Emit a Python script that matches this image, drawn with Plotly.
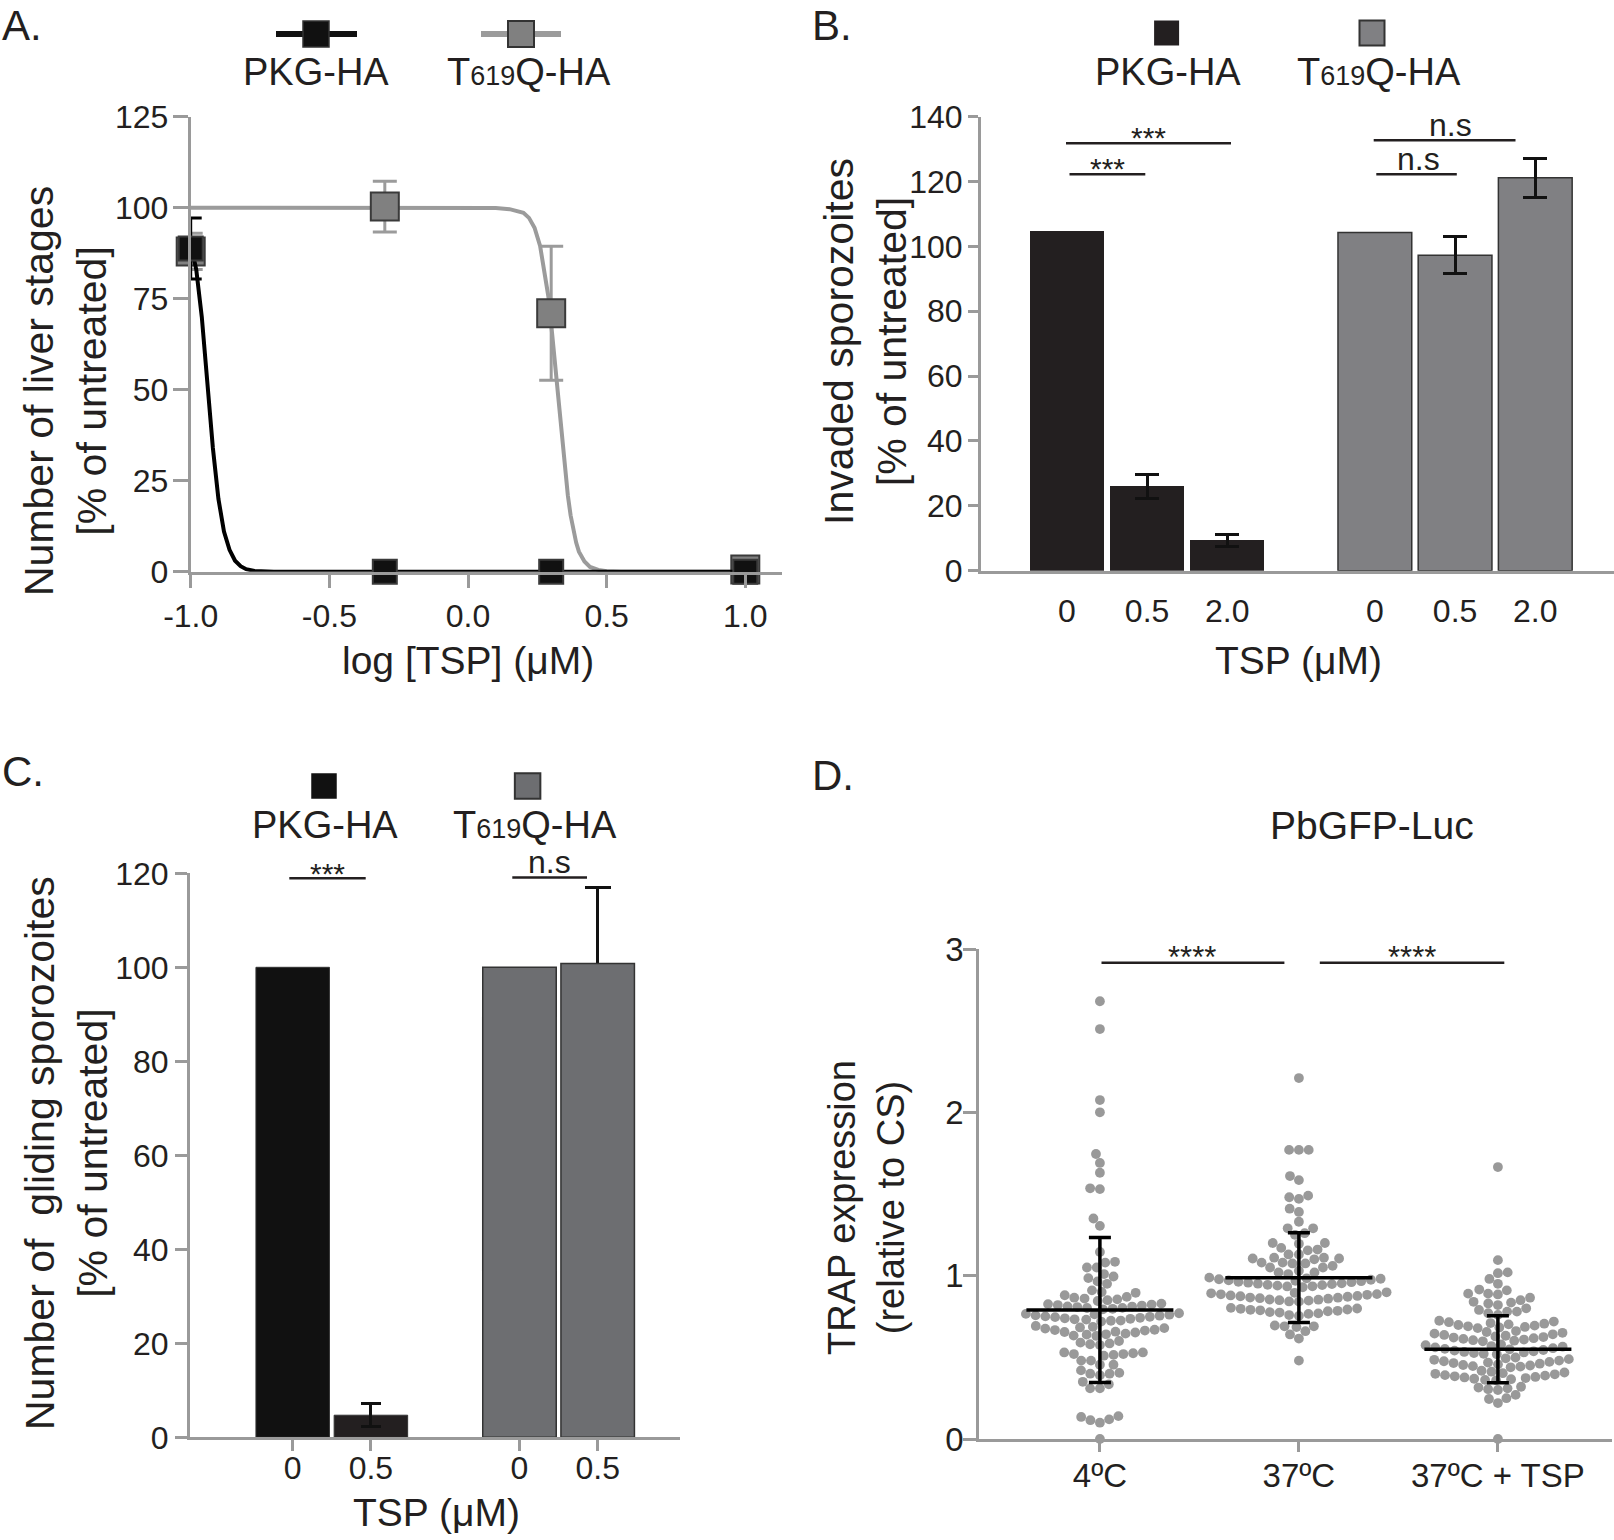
import math
import plotly.graph_objects as go

W, H = 1614, 1540
FONT = "Liberation Sans, Arial, Helvetica, sans-serif"
TXT = "#231f20"
AX = "#9a9a9a"

# ---------------- Panel A data ----------------
A_X_LOG = [-1.0, -0.3, 0.3, 1.0]
A_PKG_Y = [88.8, 0, 0, 0]
A_PKG_ERR = [8.4, None, None, None]
A_T619_Y = [88.0, 100.3, 71.0, 0.6]
A_T619_ERR = [5.0, 7.0, 18.4, None]
A_PKG_FIT_X = [-1.00, -0.98, -0.96, -0.94, -0.92, -0.90, -0.88, -0.86, -0.84, -0.82, -0.80, -0.77, -0.74, -0.70, 1.00]
A_PKG_FIT_Y = [90, 83, 70, 52, 34, 20, 11, 6, 3, 1.5, 0.7, 0.2, 0.05, 0, 0]
A_T619_FIT_X = [-1.0, 0.0, 0.10, 0.15, 0.20, 0.22, 0.24, 0.26, 0.28, 0.29, 0.30, 0.31, 0.32, 0.33,
                0.34, 0.35, 0.36, 0.37, 0.38, 0.39, 0.40, 0.42, 0.44, 0.47, 0.50, 0.55, 1.0]
A_T619_FIT_Y = [100, 100, 99.9, 99.6, 98.6, 97.2, 94.5, 89.5, 81, 75.5, 68, 60, 51.5, 43,
                35, 27.5, 21, 15.5, 11.5, 8, 5.5, 2.8, 1.3, 0.5, 0.1, 0, 0]
A_XTICKS = [-1.0, -0.5, 0.0, 0.5, 1.0]
A_XTICK_LABELS = ["-1.0", "-0.5", "0.0", "0.5", "1.0"]
A_YTICKS = [0, 25, 50, 75, 100, 125]

# ---------------- Panel B data ----------------
B_DOSES = ["0", "0.5", "2.0"]
B_PKG = [104.8, 26.0, 9.4]
B_PKG_ERR = [None, 3.7, 1.8]
B_T619 = [104.3, 97.3, 121.2]
B_T619_ERR = [None, 5.8, 6.0]
B_YTICKS = [0, 20, 40, 60, 80, 100, 120, 140]

# ---------------- Panel C data ----------------
C_DOSES = ["0", "0.5"]
C_PKG = [100.0, 4.7]
C_PKG_ERR = [None, 2.5]
C_T619 = [100.0, 100.8]
C_T619_ERR = [None, 16.2]
C_YTICKS = [0, 20, 40, 60, 80, 100, 120]

# ---------------- Panel D data ----------------
D_GROUPS = ["4ºC", "37ºC", "37ºC + TSP"]
D_4C = [0.00, 0.10, 0.115, 0.12, 0.135, 0.14,
        0.31, 0.31, 0.335, 0.35,
        0.39, 0.40, 0.40, 0.405, 0.42,
        0.455, 0.455, 0.48, 0.48,
        0.51, 0.515, 0.52, 0.52, 0.525, 0.53, 0.53,
        0.575, 0.58, 0.585, 0.59, 0.60,
        0.631, 0.633, 0.639, 0.641, 0.645, 0.652, 0.655, 0.657, 0.664, 0.667, 0.669, 0.676, 0.679, 0.683, 0.687, 0.692,
        0.719, 0.724, 0.725, 0.731, 0.733, 0.736, 0.739, 0.742, 0.746, 0.748, 0.751, 0.755, 0.757, 0.761, 0.763, 0.766, 0.770,
        0.794, 0.797, 0.802, 0.803, 0.808, 0.811, 0.812, 0.817, 0.820, 0.823, 0.826, 0.829,
        0.845, 0.85, 0.855, 0.86, 0.865, 0.87,
        0.88, 0.895, 0.90, 0.91,
        0.95, 0.965, 0.985, 0.995, 1.01,
        1.05, 1.05, 1.08, 1.085,
        1.145, 1.305, 1.35, 1.53, 1.535, 1.63, 1.69, 1.745, 2.00, 2.075, 2.51, 2.68]
D_37C = [0.48, 0.615, 0.64, 0.66, 0.685, 0.69, 0.69, 0.695,
         0.754, 0.759, 0.766, 0.769, 0.774, 0.777, 0.782, 0.785, 0.788, 0.791, 0.793, 0.797, 0.799, 0.803,
         0.841, 0.842, 0.847, 0.850, 0.853, 0.854, 0.859, 0.862, 0.865, 0.866, 0.871, 0.874, 0.876, 0.879,
         0.883, 0.886, 0.887, 0.892, 0.895, 0.898,
         0.929, 0.934, 0.935, 0.939, 0.942, 0.944, 0.948, 0.951, 0.953, 0.957, 0.960, 0.962, 0.966, 0.969,
         0.971, 0.975, 0.978, 0.981, 0.984, 0.988,
         1.01, 1.02, 1.02, 1.03, 1.05, 1.05, 1.06, 1.075, 1.075, 1.08, 1.08, 1.10, 1.105, 1.105, 1.11, 1.11,
         1.13, 1.13, 1.155, 1.16, 1.17,
         1.195, 1.20, 1.20, 1.25, 1.26, 1.29, 1.29, 1.33, 1.39, 1.41, 1.47, 1.48, 1.49, 1.585, 1.61,
         1.77, 1.77, 1.77, 2.21]
D_37C_TSP = [0.0, 0.22, 0.245, 0.25, 0.27, 0.30, 0.305, 0.31, 0.315, 0.32,
             0.359, 0.362, 0.366, 0.369, 0.373, 0.377, 0.380, 0.384, 0.388, 0.391, 0.396, 0.399, 0.403, 0.407, 0.412, 0.418,
             0.439, 0.443, 0.446, 0.450, 0.453, 0.457, 0.461, 0.465, 0.468, 0.472, 0.476, 0.480, 0.485, 0.489, 0.494, 0.499,
             0.519, 0.522, 0.526, 0.530, 0.533, 0.537, 0.541, 0.545, 0.549, 0.552, 0.556, 0.561, 0.565, 0.569, 0.574, 0.579,
             0.598, 0.602, 0.605, 0.609, 0.613, 0.617, 0.621, 0.624, 0.628, 0.632, 0.637, 0.641, 0.645, 0.650, 0.655, 0.661,
             0.679, 0.683, 0.686, 0.690, 0.694, 0.698, 0.702, 0.706, 0.710, 0.715, 0.719, 0.724,
             0.76, 0.77, 0.78, 0.78, 0.79, 0.80, 0.82, 0.83, 0.835, 0.84, 0.85, 0.865, 0.885, 0.89, 0.89,
             0.91, 0.915, 0.95, 0.98, 1.015, 1.02, 1.095, 1.665]
D_MEAN = [0.79, 0.988, 0.55]
D_SD = [0.444, 0.274, 0.205]
D_YTICKS = [0, 1, 2, 3]


# ---------------- helpers (pixel -> paper) ----------------
def fx(px):
    return px / W


def fy(py):
    return 1 - py / H


def txt(text, x, y, size, xanchor="center", yanchor="middle", angle=0):
    return dict(text=text, x=fx(x), y=fy(y), xref="paper", yref="paper", showarrow=False,
                font=dict(size=size, color=TXT, family=FONT), xanchor=xanchor, yanchor=yanchor,
                textangle=angle)


def hline(x0, x1, y, color="#231f20", width=2.5):
    return dict(type="line", xref="paper", yref="paper", x0=fx(x0), x1=fx(x1), y0=fy(y), y1=fy(y),
                line=dict(color=color, width=width))


def square(cx, cy, s, fill, line_color=None, lw=0):
    return dict(type="rect", xref="paper", yref="paper", x0=fx(cx - s / 2), x1=fx(cx + s / 2),
                y0=fy(cy + s / 2), y1=fy(cy - s / 2), fillcolor=fill,
                line=dict(color=line_color or fill, width=lw))


def with_err(pos, vals, errs):
    keep = [i for i, e in enumerate(errs) if e is not None]
    return [pos[i] for i in keep], [vals[i] for i in keep], [errs[i] for i in keep]


def beeswarm(values, y_px_per_unit, diameter):
    order = sorted(range(len(values)), key=lambda i: values[i])
    placed = []
    offs = [0.0] * len(values)
    for i in order:
        y = values[i] * y_px_per_unit
        cands = [0.0]
        for (px_, py_) in placed:
            dy = y - py_
            if abs(dy) < diameter:
                dx = math.sqrt(diameter ** 2 - dy ** 2)
                cands.extend([px_ + dx, px_ - dx])
        cands.sort(key=lambda c: (round(abs(c), 6), c))
        chosen = 0.0
        for c in cands:
            if all((c - px_) ** 2 + (y - py_) ** 2 >= diameter ** 2 - 1e-6 for px_, py_ in placed):
                chosen = c
                break
        placed.append((chosen, y))
        offs[i] = chosen
    return offs


def axis_base(ticklen, size=32):
    return dict(showline=True, linecolor=AX, linewidth=3, ticks="outside", ticklen=ticklen,
                tickcolor=AX, tickwidth=3, showgrid=False, zeroline=False, fixedrange=True,
                automargin=False, tickfont=dict(size=size, color=TXT, family=FONT))


# ---------------- layout geometry (px) ----------------
A_L, A_R, A_T, A_B = 190.7, 782.0, 116.7, 571.7
A_XPX = 277.3
A_XRANGE = [-1.0, -1.0 + (A_R - A_L) / A_XPX]
B_L, B_R, B_T, B_B = 981.0, 1614.0, 116.7, 570.7
B_GROUP_STEP = 3.84
B_XPX = 80.2
B_FIRST = 1066.9
B_XRANGE = [(B_L - B_FIRST) / B_XPX, (B_R - B_FIRST) / B_XPX]
C_L, C_R, C_T, C_B = 190.0, 680.0, 873.3, 1437.3
C_GROUP_STEP = 2.9
C_XPX = 78.2
C_FIRST = 292.7
C_XRANGE = [(C_L - C_FIRST) / C_XPX, (C_R - C_FIRST) / C_XPX]
D_L, D_R, D_T, D_B = 979.3, 1612.0, 949.0, 1439.0
D_XPX = 199.0
D_FIRST = 1099.9
D_XRANGE = [(D_L - D_FIRST) / D_XPX, (D_R - D_FIRST) / D_XPX]

fig = go.Figure()
ERR = dict(type="data", color="#111111", thickness=3)

# ---------------- Panel A traces ----------------
BLACK = "#111111"
GRAYM = "#808080"
GRAYL = "#9b9b9b"
fig.add_trace(go.Scatter(x=A_T619_FIT_X, y=A_T619_FIT_Y, mode="lines",
                         line=dict(color=GRAYL, width=4), xaxis="x", yaxis="y", hoverinfo="skip"))
ax_, ay_, ae_ = with_err(A_X_LOG, A_T619_Y, A_T619_ERR)
fig.add_trace(go.Scatter(x=ax_, y=ay_, mode="markers", marker=dict(size=1, opacity=0),
                         error_y=dict(type="data", array=ae_, color=GRAYL, thickness=3, width=12),
                         cliponaxis=False, xaxis="x", yaxis="y"))
fig.add_trace(go.Scatter(x=A_X_LOG, y=A_T619_Y, mode="markers",
                         marker=dict(symbol="square", size=28, color=GRAYM, line=dict(color="#3a3a3a", width=2)),
                         cliponaxis=False, xaxis="x", yaxis="y"))
fig.add_trace(go.Scatter(x=A_PKG_FIT_X, y=A_PKG_FIT_Y, mode="lines",
                         line=dict(color="#000000", width=4), xaxis="x", yaxis="y", hoverinfo="skip",
                         cliponaxis=False))
ax_, ay_, ae_ = with_err(A_X_LOG, A_PKG_Y, A_PKG_ERR)
fig.add_trace(go.Scatter(x=ax_, y=ay_, mode="markers", marker=dict(size=1, opacity=0),
                         error_y=dict(type="data", array=ae_, color="#000000", thickness=3, width=11),
                         cliponaxis=False, xaxis="x", yaxis="y"))
fig.add_trace(go.Scatter(x=A_X_LOG, y=A_PKG_Y, mode="markers",
                         marker=dict(symbol="square", size=24, color=BLACK, line=dict(color="#3a3a3a", width=2)),
                         cliponaxis=False, xaxis="x", yaxis="y"))

# ---------------- Panel B traces ----------------
b_pkg_pos = [0 * B_GROUP_STEP + i for i in range(len(B_DOSES))]
b_t619_pos = [1 * B_GROUP_STEP + i for i in range(len(B_DOSES))]
fig.add_trace(go.Bar(x=b_pkg_pos, y=B_PKG, width=0.92, marker=dict(color="#231f20", line=dict(width=0)),
                     xaxis="x2", yaxis="y2"))
fig.add_trace(go.Bar(x=b_t619_pos, y=B_T619, width=0.92,
                     marker=dict(color="#808083", line=dict(color="#333333", width=1.5)),
                     xaxis="x2", yaxis="y2"))
for pos, vals, errs in [(b_pkg_pos, B_PKG, B_PKG_ERR), (b_t619_pos, B_T619, B_T619_ERR)]:
    ex, ey, ee = with_err(pos, vals, errs)
    fig.add_trace(go.Bar(x=ex, y=ey, width=0.92, marker=dict(color="rgba(0,0,0,0)", line=dict(width=0)),
                         error_y=dict(ERR, array=ee, width=12), xaxis="x2", yaxis="y2", hoverinfo="skip"))

# ---------------- Panel C traces ----------------
c_pkg_pos = [0 * C_GROUP_STEP + i for i in range(len(C_DOSES))]
c_t619_pos = [1 * C_GROUP_STEP + i for i in range(len(C_DOSES))]
ex, ey, ee = with_err(c_t619_pos, C_T619, C_T619_ERR)
fig.add_trace(go.Bar(x=ex, y=ey, width=0.94, marker=dict(color="rgba(0,0,0,0)", line=dict(width=0)),
                     error_y=dict(ERR, array=ee, width=13), xaxis="x3", yaxis="y3", hoverinfo="skip"))
fig.add_trace(go.Bar(x=c_pkg_pos, y=C_PKG, width=0.94,
                     marker=dict(color=["#111111", "#231f20"], line=dict(color="#333333", width=1)),
                     xaxis="x3", yaxis="y3"))
fig.add_trace(go.Bar(x=c_t619_pos, y=C_T619, width=0.94,
                     marker=dict(color="#6d6e71", line=dict(color="#333333", width=1.5)),
                     xaxis="x3", yaxis="y3"))
ex, ey, ee = with_err(c_pkg_pos, C_PKG, C_PKG_ERR)
fig.add_trace(go.Bar(x=ex, y=ey, width=0.94, marker=dict(color="rgba(0,0,0,0)", line=dict(width=0)),
                     error_y=dict(ERR, array=ee, width=10), xaxis="x3", yaxis="y3", hoverinfo="skip"))

# ---------------- Panel D traces ----------------
D_YPX = (D_B - D_T) / (D_YTICKS[-1] - D_YTICKS[0])
DOT = 9.8
for gi, vals in enumerate([D_4C, D_37C, D_37C_TSP]):
    offs = beeswarm(vals, D_YPX, DOT)
    fig.add_trace(go.Scatter(x=[gi + o / D_XPX for o in offs], y=vals, mode="markers",
                             marker=dict(size=DOT, color="#999999", line=dict(width=0)),
                             cliponaxis=False, xaxis="x4", yaxis="y4"))
fig.add_trace(go.Scatter(x=list(range(len(D_GROUPS))), y=D_MEAN, mode="markers",
                         marker=dict(symbol="line-ew", size=105, line=dict(color="#000000", width=3.5)),
                         error_y=dict(type="data", array=D_SD, color="#000000", thickness=3.5, width=11),
                         xaxis="x4", yaxis="y4", cliponaxis=False))

# ---------------- axes ----------------
xa = axis_base(13)
xa.update(domain=[fx(A_L), fx(A_R)], range=A_XRANGE, tickvals=A_XTICKS, ticktext=A_XTICK_LABELS,
          anchor="y", ticklabelstandoff=1)
ya = axis_base(15)
ya.update(domain=[fy(A_B), fy(A_T)], range=[0, 125], tickvals=A_YTICKS, anchor="x", ticklabelstandoff=-2)

xb = axis_base(0)
xb.update(domain=[fx(B_L), fx(B_R)], range=B_XRANGE, tickvals=b_pkg_pos + b_t619_pos,
          ticktext=B_DOSES + B_DOSES, anchor="y2", ticks="", ticklabelstandoff=10)
yb = axis_base(10)
yb.update(domain=[fy(B_B), fy(B_T)], range=[0, 140], tickvals=B_YTICKS, anchor="x2", ticklabelstandoff=-1)

xc = axis_base(11)
xc.update(domain=[fx(C_L), fx(C_R)], range=C_XRANGE, tickvals=c_pkg_pos + c_t619_pos,
          ticktext=C_DOSES + C_DOSES, anchor="y3", ticklabelstandoff=-11)
yc = axis_base(12)
yc.update(domain=[fy(C_B), fy(C_T)], range=[0, 120], tickvals=C_YTICKS, anchor="x3", ticklabelstandoff=0)

xd = axis_base(10, 33)
xd.update(domain=[fx(D_L), fx(D_R)], range=D_XRANGE, tickvals=list(range(len(D_GROUPS))),
          ticktext=D_GROUPS, anchor="y4", ticklabelstandoff=-5)
yd = axis_base(13, 33)
yd.update(domain=[fy(D_B), fy(D_T)], range=[0, 3], tickvals=D_YTICKS, anchor="x4", ticklabelstandoff=-7)

# ---------------- decorations ----------------
T619 = "T<span style='font-size:27px'>619</span>Q-HA"
shapes = [
    hline(276, 357, 34, "#111111", 6), square(316, 34, 26, "#111111", "#333333", 1.5),
    hline(481, 561, 34, GRAYL, 6), square(521, 34, 26, GRAYM, "#333333", 2),
    square(1166.6, 33, 25, "#231f20"), square(1372, 33, 25, "#808083", "#333333", 2),
    hline(1066, 1231, 143.3), hline(1069.5, 1145.3, 174.3),
    hline(1373.7, 1515.5, 140.3), hline(1376.3, 1456.8, 174.3),
    square(324, 786, 25.5, "#111111"), square(527.6, 786, 25.5, "#6d6e71", "#333333", 2),
    hline(289.3, 365.7, 878.3), hline(512.3, 587, 877.4),
    hline(1101.5, 1284.4, 962.8), hline(1319.8, 1504.3, 962.8),
]

annotations = [
    txt("A.", 0, 0, 42, xanchor="left", yanchor="top"),
    txt("B.", 810, 0, 42, xanchor="left", yanchor="top"),
    txt("C.", 0, 772, 42, xanchor="left"),
    txt("D.", 810, 775, 42, xanchor="left"),
    txt("PKG-HA", 316, 72, 38), txt(T619, 529, 72, 38),
    txt("Number of liver stages<br>[% of untreated]", 66, 391, 41, angle=-90),
    txt("log [TSP] (&mu;M)", 468, 661, 39),
    txt("PKG-HA", 1168, 72, 38), txt(T619, 1379, 72, 38),
    txt("Invaded sporozoites<br>[% of untreated]", 865, 342, 41, angle=-90),
    txt("TSP (&mu;M)", 1298, 661, 39),
    txt("***", 1148.4, 138, 30), txt("***", 1107.4, 169, 30),
    txt("n.s", 1450.6, 125, 32), txt("n.s", 1418, 159, 32),
    txt("PKG-HA", 325, 825, 38), txt(T619, 535, 825, 38),
    txt("Number of\u00a0 gliding sporozoites<br>[% of untreated]", 66, 1153, 41, angle=-90),
    txt("TSP (&mu;M)", 436, 1512, 39),
    txt("***", 327, 873, 30), txt("n.s", 549.6, 862, 32),
    txt("PbGFP-Luc", 1371.7, 825, 39),
    txt("TRAP expression<br>(relative to CS)", 866, 1208, 38, angle=-90),
    txt("****", 1192.4, 957, 31), txt("****", 1412, 957, 31),
]

fig.update_layout(
    width=W, height=H, autosize=False,
    margin=dict(l=0, r=0, t=0, b=0, pad=0),
    paper_bgcolor="white", plot_bgcolor="white",
    showlegend=False, barmode="overlay", bargap=0,
    font=dict(family=FONT, color=TXT),
    xaxis=xa, yaxis=ya, xaxis2=xb, yaxis2=yb, xaxis3=xc, yaxis3=yc, xaxis4=xd, yaxis4=yd,
    shapes=shapes, annotations=annotations,
)

fig.write_html("out.html", config={"displayModeBar": False, "staticPlot": True},
               post_script="document.body.style.margin='0px';document.body.style.overflow='hidden';")
